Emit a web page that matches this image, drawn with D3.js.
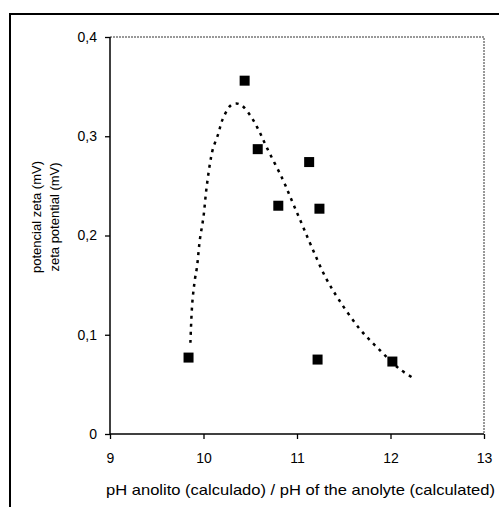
<!DOCTYPE html>
<html><head><meta charset="utf-8">
<script src="https://cdn.jsdelivr.net/npm/d3@7"></script>
<style>
html,body{margin:0;padding:0;background:#fff;}
svg{display:block;font-family:"Liberation Sans",Arial,sans-serif;}
</style></head>
<body>
<svg id="c" width="499" height="507"></svg>
<script>
// scatter data
const phValues = [9.84, 10.44, 10.58, 10.80, 11.13, 11.24, 11.22, 12.02];
const zetaValues = [0.077, 0.356, 0.287, 0.230, 0.274, 0.227, 0.075, 0.073];
// trend line
const trendX = [9.86, 9.88, 9.91, 9.93, 9.96, 10.00, 10.03, 10.07, 10.10, 10.16, 10.20, 10.29, 10.35, 10.41, 10.50, 10.58, 10.68, 10.85, 10.95, 11.05, 11.15, 11.31, 11.45, 11.67, 11.88, 12.09, 12.25];
const trendY = [0.092, 0.132, 0.157, 0.168, 0.195, 0.219, 0.246, 0.273, 0.287, 0.303, 0.316, 0.331, 0.333, 0.331, 0.321, 0.308, 0.288, 0.256, 0.234, 0.212, 0.190, 0.157, 0.135, 0.106, 0.085, 0.066, 0.056];
const xTicks = [9, 10, 11, 12, 13];
const yTicks = [0, 0.1, 0.2, 0.3, 0.4];
const yTickLabels = ["0", "0,1", "0,2", "0,3", "0,4"];
const xLabel = "pH anolito (calculado) / pH of the anolyte (calculated)";
const yLabelLines = ["potencial zeta (mV)", "zeta potential (mV)"];

const svg = d3.select("#c");
const L = 110, R = 484, T = 37, B = 434;
const x = d3.scaleLinear().domain([9, 13]).range([L, R]);
const y = d3.scaleLinear().domain([0, 0.4]).range([B, T]);

// outer frame (continues past the picture edge)
svg.append("rect").attr("x", 10).attr("y", 14).attr("width", 520).attr("height", 520)
  .attr("fill", "none").attr("stroke", "#000").attr("stroke-width", 2);

// plot border top/right dotted
svg.append("path").attr("d", `M${L},${T}H${R}V${B}`)
  .attr("fill", "none").attr("stroke", "#333").attr("stroke-width", 1).attr("stroke-dasharray", "2,1");

// axes
const xAxis = d3.axisBottom(x).tickValues(xTicks).tickSize(5).tickPadding(14).tickFormat(d3.format("d"));
const gx = svg.append("g").attr("transform", `translate(0,${B})`).call(xAxis);
const yAxis = d3.axisLeft(y).tickValues(yTicks).tickSize(5).tickPadding(8).tickFormat((d, i) => yTickLabels[i]);
const gy = svg.append("g").attr("transform", `translate(${L},0)`).call(yAxis);
[gx, gy].forEach(g => {
  g.select(".domain").attr("stroke", "#000").attr("stroke-width", 1.5);
  g.selectAll(".tick line").attr("stroke", "#000").attr("stroke-width", 1.3);
  g.selectAll(".tick text").attr("fill", "#000").attr("font-size", 14)
    .attr("font-family", "'Liberation Sans', Arial, sans-serif");
});
gx.select(".domain").attr("d", `M${L},0H${R}`);
gy.select(".domain").attr("d", `M0,${B}V${T}`);

// trend line
const line = d3.line().x((d, i) => x(trendX[i])).y((d, i) => y(trendY[i])).curve(d3.curveCatmullRom);
svg.append("path").datum(trendX).attr("d", line)
  .attr("fill", "none").attr("stroke", "#000").attr("stroke-width", 2.5)
  .attr("stroke-dasharray", "3,5");

// markers
const s = 10;
svg.selectAll("rect.pt").data(phValues).enter().append("rect").attr("class", "pt")
  .attr("x", (d) => x(d) - s / 2).attr("y", (d, i) => y(zetaValues[i]) - s / 2)
  .attr("width", s).attr("height", s).attr("fill", "#000");

// labels
svg.append("text").attr("x", 106).attr("y", 495).attr("text-anchor", "start")
  .attr("font-size", 15).attr("fill", "#000")
  .attr("textLength", 389).attr("lengthAdjust", "spacingAndGlyphs").text(xLabel);
const yl = svg.append("text").attr("transform", "translate(41,217) rotate(-90)")
  .attr("text-anchor", "middle").attr("font-size", 13).attr("fill", "#000");
yLabelLines.forEach((t, i) => yl.append("tspan").attr("x", 0).attr("dy", i === 0 ? 0 : 18).text(t));
</script>
</body></html>
